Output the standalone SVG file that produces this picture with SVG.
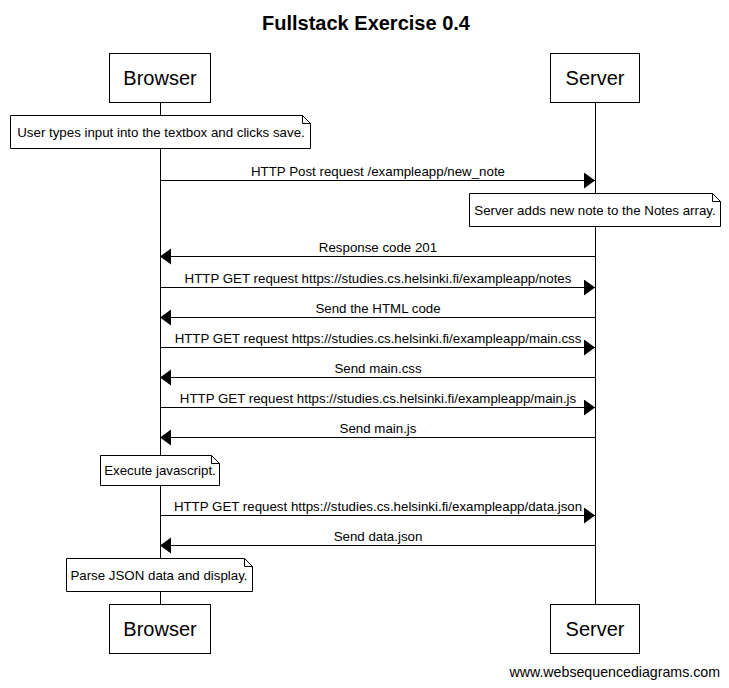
<svg xmlns="http://www.w3.org/2000/svg" width="729" height="688" viewBox="0 0 729 688">
<style>
text{font-family:"Liberation Sans",Arial,sans-serif;fill:#000}
.title{font-size:20px;font-weight:bold;text-anchor:middle}
.actor rect{fill:#fff;stroke:#000;stroke-width:1}
.actor text{font-size:20px;text-anchor:middle}
.life{stroke:#000;stroke-width:1}
.msg line{stroke:#000;stroke-width:1}
.msg text{font-size:13.3px;text-anchor:middle}
.note path{fill:#fff;stroke:#000;stroke-width:1}
.note text{font-size:13.3px;text-anchor:middle}
.foot{font-size:14.2px;text-anchor:end}
</style>
<defs>
<marker id="ah" markerWidth="12" markerHeight="18" refX="11" refY="8" orient="auto" markerUnits="userSpaceOnUse">
<path d="M0,0 L11,8 L0,16 Z" fill="#000"/>
</marker>
</defs>
<rect width="729" height="688" fill="#fff"/>
<text class="title" x="366" y="30">Fullstack Exercise 0.4</text>
<g id="lifelines">
<line class="life" x1="160.5" y1="102" x2="160.5" y2="604"/>
<line class="life" x1="595.5" y1="102" x2="595.5" y2="604"/>
</g>
<g id="browser-top" class="actor"><rect x="109.5" y="53.5" width="101" height="49"/><text x="160" y="85">Browser</text></g>
<g id="server-top" class="actor"><rect x="550.5" y="53.5" width="89" height="49"/><text x="595" y="85">Server</text></g>
<g id="browser-bottom" class="actor"><rect x="109.5" y="604.5" width="101" height="49"/><text x="160" y="636">Browser</text></g>
<g id="server-bottom" class="actor"><rect x="550.5" y="604.5" width="89" height="49"/><text x="595" y="636">Server</text></g>
<g id="note1" class="note"><path d="M10.5,115.5 H302.5 L310.5,123.5 V148.5 H10.5 Z M302.5,115.5 V123.5 H310.5"/><text x="161" y="137">User types input into the textbox and clicks save.</text></g>
<g id="note2" class="note"><path d="M469.5,193.5 H712.5 L720.5,201.5 V226.5 H469.5 Z M712.5,193.5 V201.5 H720.5"/><text x="595" y="215">Server adds new note to the Notes array.</text></g>
<g id="note3" class="note"><path d="M100.5,455.5 H211.5 L219.5,463.5 V485.5 H100.5 Z M211.5,455.5 V463.5 H219.5"/><text x="160" y="475">Execute javascript.</text></g>
<g id="note4" class="note"><path d="M66.5,558.5 H244.5 L252.5,566.5 V591.5 H66.5 Z M244.5,558.5 V566.5 H252.5"/><text x="159" y="580">Parse JSON data and display.</text></g>
<g id="connectors" class="msg">
<line x1="160" y1="180.5" x2="595" y2="180.5" marker-end="url(#ah)"/>
<text x="378" y="176">HTTP Post request /exampleapp/new_note</text>
<line x1="595" y1="256.5" x2="160" y2="256.5" marker-end="url(#ah)"/>
<text x="378" y="252">Response code 201</text>
<line x1="160" y1="287.5" x2="595" y2="287.5" marker-end="url(#ah)"/>
<text x="378" y="283">HTTP GET request https://studies.cs.helsinki.fi/exampleapp/notes</text>
<line x1="595" y1="317.5" x2="160" y2="317.5" marker-end="url(#ah)"/>
<text x="378" y="313">Send the HTML code</text>
<line x1="160" y1="347.5" x2="595" y2="347.5" marker-end="url(#ah)"/>
<text x="378" y="343">HTTP GET request https://studies.cs.helsinki.fi/exampleapp/main.css</text>
<line x1="595" y1="377.5" x2="160" y2="377.5" marker-end="url(#ah)"/>
<text x="378" y="373">Send main.css</text>
<line x1="160" y1="407.5" x2="595" y2="407.5" marker-end="url(#ah)"/>
<text x="378" y="403">HTTP GET request https://studies.cs.helsinki.fi/exampleapp/main.js</text>
<line x1="595" y1="437.5" x2="160" y2="437.5" marker-end="url(#ah)"/>
<text x="378" y="433">Send main.js</text>
<line x1="160" y1="515.5" x2="595" y2="515.5" marker-end="url(#ah)"/>
<text x="378" y="511">HTTP GET request https://studies.cs.helsinki.fi/exampleapp/data.json</text>
<line x1="595" y1="545.5" x2="160" y2="545.5" marker-end="url(#ah)"/>
<text x="378" y="541">Send data.json</text>
</g>
<text class="foot" x="720" y="677">www.websequencediagrams.com</text>
</svg>
